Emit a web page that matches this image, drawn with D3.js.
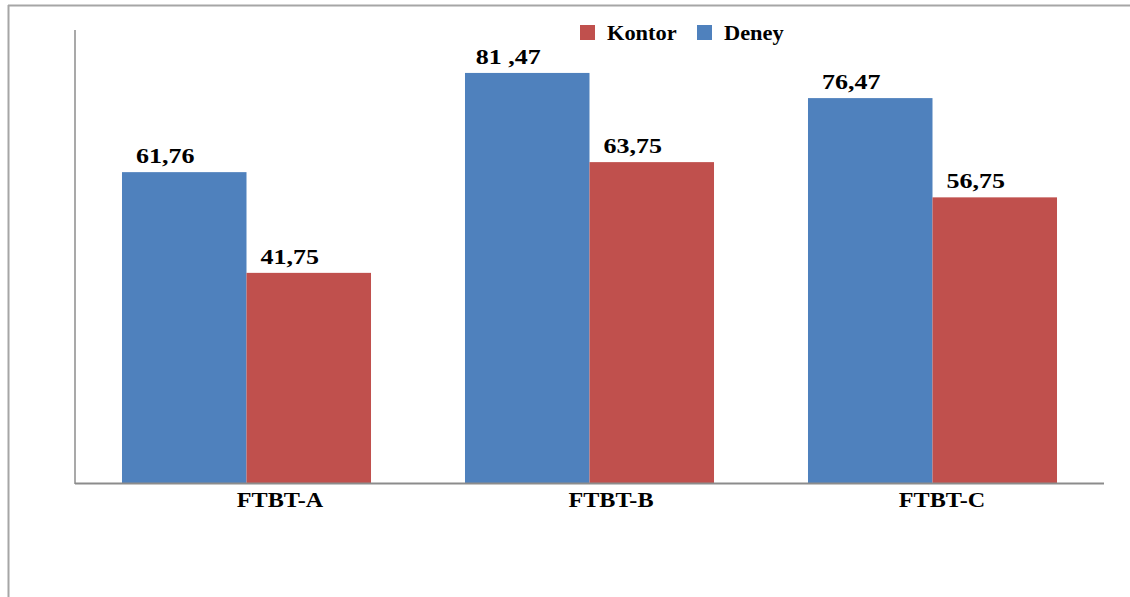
<!DOCTYPE html>
<html>
<head>
<meta charset="utf-8">
<script src="https://cdn.jsdelivr.net/npm/d3@7"></script>
<style>
  html, body { margin: 0; padding: 0; background: #fff; }
  svg { display: block; }
  text { font-family: "Liberation Serif", "Times New Roman", serif; font-weight: bold; fill: #000; }
</style>
</head>
<body>
<svg id="chart" width="1130" height="597"></svg>
<script>
const categories = ["FTBT-A", "FTBT-B", "FTBT-C"];
const seriesNames = ["Deney", "Kontor"];
const deneyValues = [61.76, 81.47, 76.47];
const kontorValues = [41.75, 63.75, 56.75];
const deneyLabels = ["61,76", "81 ,47", "76,47"];
const kontorLabels = ["41,75", "63,75", "56,75"];
const legendOrder = ["Kontor", "Deney"];

const colors = { Deney: "#4F81BD", Kontor: "#C0504D" };

const svg = d3.select("#chart");

// outer frame (partially visible)
svg.append("line").attr("x1", 8).attr("x2", 1130).attr("y1", 5.5).attr("y2", 5.5)
  .attr("stroke", "#a6a6a6").attr("stroke-width", 2);
svg.append("line").attr("x1", 8.5).attr("x2", 8.5).attr("y1", 5).attr("y2", 597)
  .attr("stroke", "#a6a6a6").attr("stroke-width", 2);

const plot = { left: 75, right: 1104, top: 30, bottom: 483 };

const x = d3.scaleBand().domain(categories).range([plot.left, plot.right])
  .paddingInner(0.274).paddingOuter(0.137);
const xs = d3.scaleBand().domain(seriesNames).range([0, x.bandwidth()]);
const y = d3.scaleLinear().domain([0, 90]).range([plot.bottom, plot.top]);
// category label positions (slightly tighter than the bar groups, as in the original)
const xLabel = d3.scalePoint().domain(categories).range([280, 942]);

const rows = categories.map((c, i) => ({
  cat: c,
  vals: [
    { s: "Deney", v: deneyValues[i], label: deneyLabels[i] },
    { s: "Kontor", v: kontorValues[i], label: kontorLabels[i] }
  ]
}));

function stretch(sel, k) {
  sel.each(function () {
    const w = this.getComputedTextLength();
    d3.select(this).attr("textLength", w * k).attr("lengthAdjust", "spacingAndGlyphs");
  });
}

const g = svg.selectAll("g.cat").data(rows).join("g")
  .attr("class", "cat")
  .attr("transform", d => `translate(${x(d.cat)},0)`);

g.selectAll("rect").data(d => d.vals).join("rect")
  .attr("x", d => xs(d.s))
  .attr("width", xs.bandwidth())
  .attr("y", d => y(d.v))
  .attr("height", d => y(0) - y(d.v))
  .attr("fill", d => colors[d.s]);

const vl = g.selectAll("text.val").data(d => d.vals).join("text")
  .attr("class", "val")
  .attr("x", d => xs(d.s) + xs.bandwidth() / 2 - 19)
  .attr("y", d => y(d.v) - 9)
  .attr("text-anchor", "middle")
  .attr("font-size", 20)
  .text(d => d.label);
stretch(vl, 1.3);

// axes lines
svg.append("line").attr("x1", plot.left).attr("x2", plot.left)
  .attr("y1", plot.top).attr("y2", plot.bottom + 1)
  .attr("stroke", "#8c8c8c").attr("stroke-width", 1.5);
svg.append("line").attr("x1", plot.left).attr("x2", plot.right)
  .attr("y1", plot.bottom + 0.5).attr("y2", plot.bottom + 0.5)
  .attr("stroke", "#8c8c8c").attr("stroke-width", 2);

// category labels
const cl = svg.selectAll("text.cat").data(categories).join("text")
  .attr("class", "cat")
  .attr("x", d => xLabel(d))
  .attr("y", 507)
  .attr("text-anchor", "middle")
  .attr("font-size", 21)
  .text(d => d);
stretch(cl, 1.15);

// legend
const lg = svg.append("g").attr("class", "legend");
const legendX = [580, 697];
legendOrder.forEach((name, i) => {
  lg.append("rect").attr("x", legendX[i]).attr("y", 25).attr("width", 15).attr("height", 15)
    .attr("fill", colors[name]);
  const t = lg.append("text").attr("x", legendX[i] + 27).attr("y", 40)
    .attr("font-size", 20).text(name);
  stretch(t, 1.12);
});
</script>
</body>
</html>
